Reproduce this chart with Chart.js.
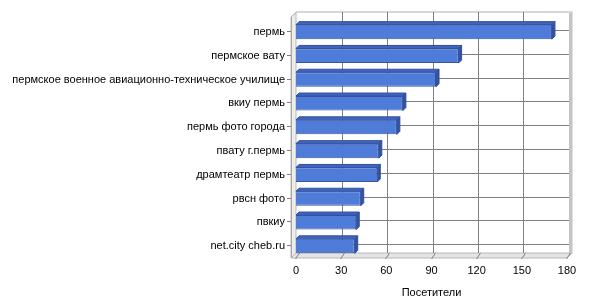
<!DOCTYPE html>
<html><head><meta charset="utf-8">
<script src="https://cdn.jsdelivr.net/npm/chart.js@4/dist/chart.umd.min.js"></script>
<style>html,body{margin:0;padding:0;background:#fff}#w{width:600px;height:300px}</style>
</head><body><div id="w"><canvas id="c"></canvas></div>
<script>
const categories = ["пермь","пермское вату","пермское военное авиационно-техническое училище","вкиу пермь","пермь фото города","пвату г.пермь","драмтеатр пермь","рвсн фото","пвкиу","net.city cheb.ru"];
const visitors = [170,108,93,71,67,55,54,43,40,39];
const xTicks = [0,30,60,90,120,150,180];
const xTitle = "Посетители";

const FONT = "'Liberation Sans', Arial, sans-serif";
const D = 5;   // wall depth
const BD = 3;  // bar depth

const walls = {
  id: 'walls',
  beforeDatasetsDraw(chart) {
    const ctx = chart.ctx, ca = chart.chartArea;
    const xs = chart.scales.x, ys = chart.scales.y;
    const L = ca.left, R = ca.right, T = ca.top, B = ca.bottom;
    const bl = L, br = R + 2, bt = T - 8, bb = B - D;
    ctx.save();
    // left wall
    ctx.fillStyle = '#ececec';
    ctx.beginPath();
    ctx.moveTo(bl - D, bt + D); ctx.lineTo(bl, bt); ctx.lineTo(bl, bb); ctx.lineTo(bl - D, B);
    ctx.closePath(); ctx.fill();
    ctx.strokeStyle = '#b8b8b8'; ctx.lineWidth = 1; ctx.stroke();
    // floor
    ctx.fillStyle = '#e4e4e4';
    ctx.beginPath();
    ctx.moveTo(bl - D, B); ctx.lineTo(bl, bb); ctx.lineTo(br + 3, bb); ctx.lineTo(br - 2, B);
    ctx.closePath(); ctx.fill(); ctx.stroke();
    // right wall edge
    ctx.fillStyle = '#c4c4c4';
    ctx.fillRect(br, bt, 3.5, bb - bt + 1);
    // top edge
    ctx.fillStyle = '#d8d8d8';
    ctx.fillRect(bl, bt - 1, br - bl + 3.5, 2);
    ctx.strokeStyle = '#c8c8c8';
    ctx.beginPath(); ctx.moveTo(bl - D + 0.5, bt + D); ctx.lineTo(bl + 0.5, bt); ctx.stroke();
    // vertical grid on back wall + floor lines + ticks
    ctx.strokeStyle = '#808080'; ctx.lineWidth = 1;
    xs.ticks.forEach(t => {
      const px = Math.round(xs.getPixelForValue(t.value)) + 0.5;
      if (t.value !== 0 && t.value !== 180) {
        ctx.beginPath(); ctx.moveTo(px + 1, bt); ctx.lineTo(px + 1, bb); ctx.stroke();
      }
      ctx.beginPath(); ctx.moveTo(px + 3, bb); ctx.lineTo(px - 1, B + 1); ctx.stroke();
    });
    // horizontal grid on back wall
    ys.ticks.forEach((t, i) => {
      const py = Math.round(ys.getPixelForValue(i)) - 1.5;
      ctx.beginPath(); ctx.moveTo(bl, py); ctx.lineTo(br, py); ctx.stroke();
      ctx.beginPath(); ctx.moveTo(bl - D - 4, py + 1); ctx.lineTo(bl - D, py + 1); ctx.stroke();
    });
    // front-left edge
    ctx.strokeStyle = '#a8a8a8';
    ctx.beginPath(); ctx.moveTo(bl - D + 0.5, bt + D); ctx.lineTo(bl - D + 0.5, B); ctx.stroke();
    ctx.restore();
  },
  afterDatasetsDraw(chart) {
    const ctx = chart.ctx;
    const meta = chart.getDatasetMeta(0);
    ctx.save();
    meta.data.forEach(bar => {
      const p = bar.getProps(['x','y','base','height'], true);
      const top = p.y - p.height / 2, bot = p.y + p.height / 2;
      const x0 = p.base, x1 = p.x;
      ctx.lineWidth = 1; ctx.strokeStyle = '#2f4f9f';
      ctx.fillStyle = '#4264c0';
      ctx.beginPath();
      ctx.moveTo(x0, top); ctx.lineTo(x0 + BD, top - BD); ctx.lineTo(x1 + BD, top - BD); ctx.lineTo(x1, top);
      ctx.closePath(); ctx.fill(); ctx.stroke();
      ctx.fillStyle = '#34539f';
      ctx.beginPath();
      ctx.moveTo(x1, top); ctx.lineTo(x1 + BD, top - BD); ctx.lineTo(x1 + BD, bot - BD); ctx.lineTo(x1, bot);
      ctx.closePath(); ctx.fill(); ctx.stroke();
    });
    ctx.restore();
  }
};

new Chart(document.getElementById('c'), {
  type: 'bar',
  data: {
    labels: categories,
    datasets: [{
      data: visitors,
      backgroundColor: '#4f7bd9',
      borderColor: '#3455aa',
      borderWidth: 1,
      barPercentage: 0.61,
      categoryPercentage: 1
    }]
  },
  options: {
    indexAxis: 'y',
    responsive: true,
    maintainAspectRatio: false,
    animation: false,
    layout: { padding: { top: 20, right: 33, left: 0, bottom: 0 } },
    plugins: { legend: { display: false }, tooltip: { enabled: false } },
    scales: {
      x: {
        min: 0, max: 180,
        afterBuildTicks(s) { s.ticks = xTicks.map(v => ({ value: v })); },
        afterFit(s) { s.height = 42; },
        grid: { display: false, drawTicks: false },
        border: { display: false },
        ticks: { padding: 6, color: '#000', font: { family: FONT, size: 11 }, maxRotation: 0 },
        title: { display: true, text: xTitle, color: '#000', font: { family: FONT, size: 11 }, padding: { top: 4, bottom: 0 } }
      },
      y: {
        afterFit(s) { s.width = 296; },
        grid: { display: false, drawTicks: false },
        border: { display: false },
        ticks: { padding: 11, color: '#000', font: { family: FONT, size: 11 }, autoSkip: false }
      }
    }
  },
  plugins: [walls]
});
</script>
</body></html>
